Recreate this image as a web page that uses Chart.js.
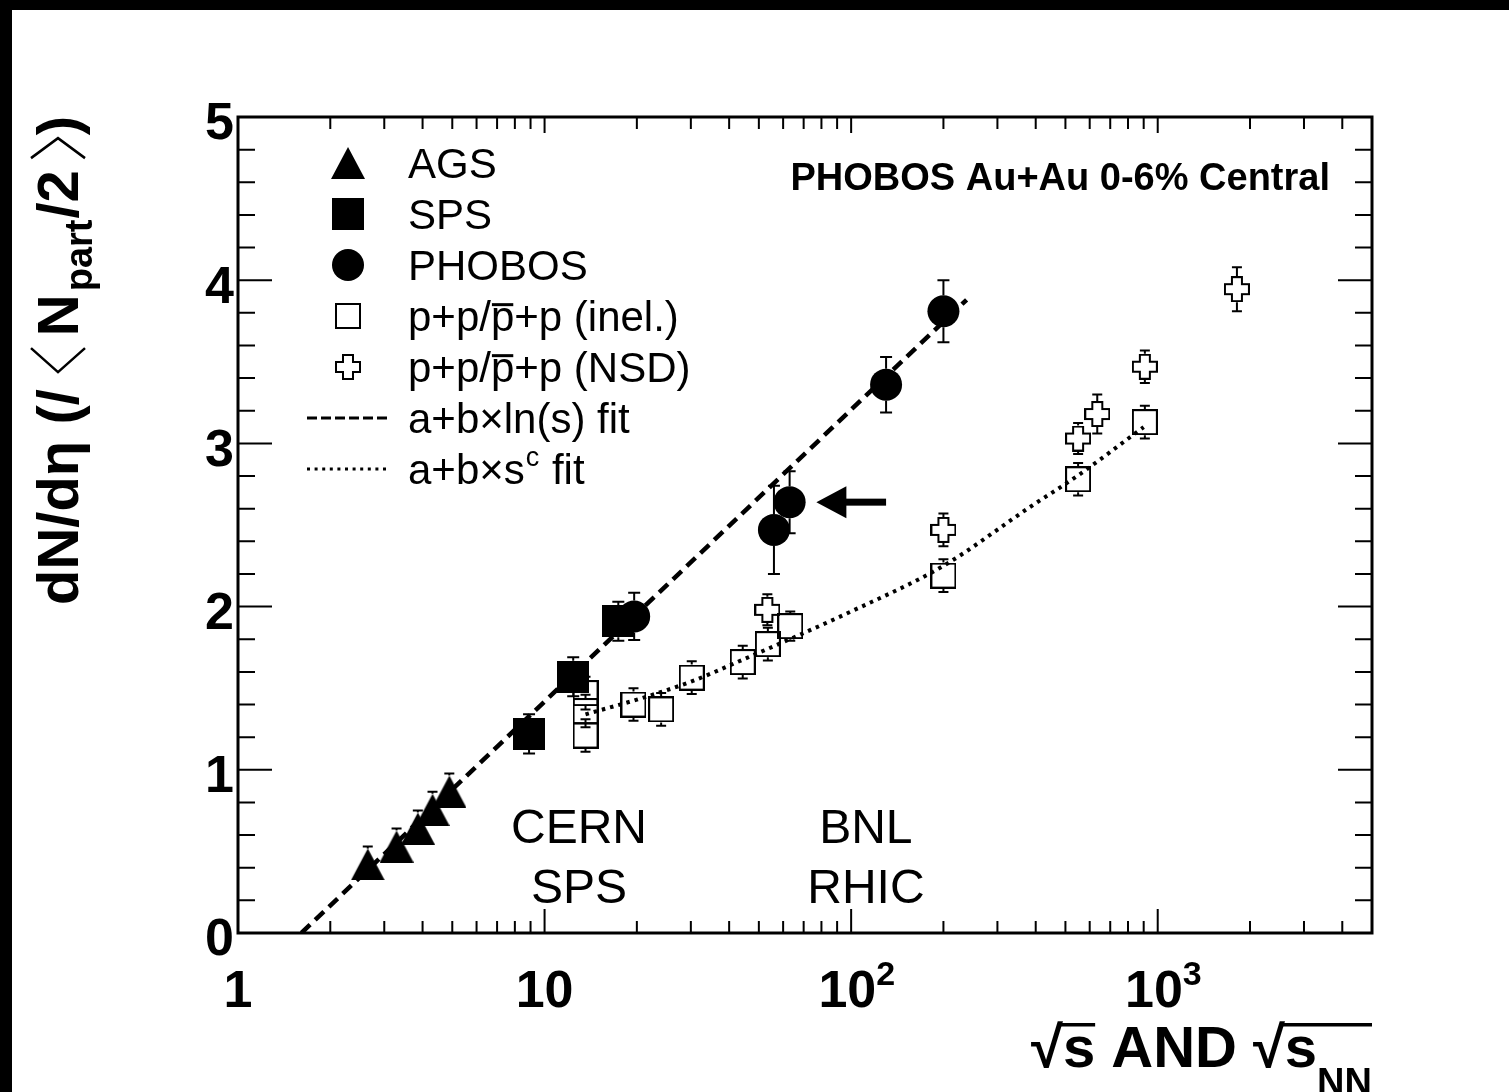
<!DOCTYPE html>
<html>
<head>
<meta charset="utf-8">
<script src="https://cdn.jsdelivr.net/npm/chart.js@4.4.1/dist/chart.umd.min.js"></script>
<style>
html, body { margin: 0; padding: 0; background: #000; }
canvas { display: block; }
</style>
</head>
<body>
<canvas id="chart" width="1509" height="1092"></canvas>
<script>
// ---- data ----
const ags_x = [2.65, 3.29, 3.86, 4.31, 4.89];
const ags_y = [0.42, 0.53, 0.64, 0.755, 0.867];
const ags_err_up = [0.11, 0.11, 0.11, 0.11, 0.11];
const ags_err_down = [0.08, 0.08, 0.08, 0.08, 0.08];

const sps_x = [8.9, 12.4, 17.4];
const sps_y = [1.22, 1.57, 1.91];
const sps_err = [0.12, 0.12, 0.12];

const phobos_x = [19.6, 56, 63, 130, 200];
const phobos_y = [1.94, 2.47, 2.64, 3.36, 3.81];
const phobos_err = [0.145, 0.27, 0.19, 0.17, 0.19];

const inel_x = [13.6, 13.6, 13.6, 19.5, 24, 30.2, 44.3, 53.5, 63.3, 200, 550, 908];
const inel_y = [1.47, 1.36, 1.21, 1.40, 1.37, 1.565, 1.66, 1.77, 1.88, 2.19, 2.78, 3.13];
const inel_err = [0.1, 0.1, 0.1, 0.1, 0.1, 0.1, 0.1, 0.1, 0.09, 0.1, 0.1, 0.1];

const nsd_x = [53.3, 200, 550, 635, 908, 1813];
const nsd_y = [1.98, 2.47, 3.03, 3.18, 3.47, 3.945];
const nsd_err = [0.095, 0.1, 0.095, 0.12, 0.1, 0.135];

// fits, as drawn in the figure
const lnfit_x = [1.61, 238];
const lnfit_y = [0, 3.88];
const powfit_x = [13.6, 20, 30, 45, 63, 100, 200, 383, 546, 900];
const powfit_y = [1.34, 1.43, 1.54, 1.68, 1.80, 1.97, 2.25, 2.61, 2.80, 3.10];

// axis ticks
const x_major = [1, 10, 100, 1000];
const x_label_base = ['1', '10', '10', '10'];
const x_label_exp = ['', '', '2', '3'];
const x_minor = [2, 3, 4, 5, 6, 7, 8, 9, 20, 30, 40, 50, 60, 70, 80, 90,
                 200, 300, 400, 500, 600, 700, 800, 900, 2000, 3000, 4000];
const y_labels = ['0', '1', '2', '3', '4', '5'];

const legend_labels = ['AGS', 'SPS', 'PHOBOS', 'p+p/p+p (inel.)', 'p+p/p+p (NSD)', 'a+b×ln(s) fit', 'a+b×s'];
const region_labels = [['CERN', 'SPS'], ['BNL', 'RHIC']];
const region_x = [12.95, 111.7];
const region_y = [0.553, 0.186];
const arrow_tip = [77, 2.64];
const arrow_tail = [130, 2.64];

const FONT = "'Liberation Sans', Arial, Helvetica, sans-serif";

function zip(xs, ys) {
    return xs.map((x, i) => ({ x: x, y: ys[i] }));
}

// ---- marker images ----
function make_marker(kind) {
    const c = document.createElement('canvas');
    const g = c.getContext('2d');
    if (kind === 'triangle') {
        c.width = 34; c.height = 32;
        g.fillStyle = '#000';
        g.beginPath();
        g.moveTo(17, 0); g.lineTo(34, 32); g.lineTo(0, 32);
        g.closePath(); g.fill();
    } else if (kind === 'square') {
        c.width = 32; c.height = 32;
        g.fillStyle = '#000';
        g.fillRect(0, 0, 32, 32);
    } else if (kind === 'open_square') {
        c.width = 26; c.height = 26;
        g.strokeStyle = '#000'; g.lineWidth = 2;
        g.strokeRect(1, 1, 24, 24);
    } else if (kind === 'open_cross') {
        c.width = 26; c.height = 26;
        const a = 8, b = 18;
        g.beginPath();
        g.moveTo(a, 1); g.lineTo(b, 1); g.lineTo(b, a); g.lineTo(25, a);
        g.lineTo(25, b); g.lineTo(b, b); g.lineTo(b, 25); g.lineTo(a, 25);
        g.lineTo(a, b); g.lineTo(1, b); g.lineTo(1, a); g.lineTo(a, a);
        g.closePath();
        g.fillStyle = '#fff'; g.fill();
        g.strokeStyle = '#000'; g.lineWidth = 2; g.stroke();
    }
    return c;
}

const tri_img = make_marker('triangle');
const sq_img = make_marker('square');
const osq_img = make_marker('open_square');
const cross_img = make_marker('open_cross');

// ---- plugins ----
const background_plugin = {
    id: 'background',
    beforeDraw(chart) {
        const ctx = chart.ctx;
        ctx.save();
        ctx.fillStyle = '#000';
        ctx.fillRect(0, 0, chart.width, chart.height);
        ctx.fillStyle = '#fff';
        ctx.fillRect(12, 10, chart.width - 12, chart.height - 10);
        ctx.restore();
    }
};

const error_bar_plugin = {
    id: 'errorbars',
    beforeDatasetsDraw(chart) {
        const ctx = chart.ctx;
        const ys = chart.scales.y;
        ctx.save();
        ctx.strokeStyle = '#000';
        ctx.lineWidth = 2;
        chart.data.datasets.forEach((ds, i) => {
            if (!ds.err) return;
            const meta = chart.getDatasetMeta(i);
            meta.data.forEach((pt, j) => {
                const val = ds.data[j].y;
                const up = ys.getPixelForValue(val + ds.err.up[j]);
                const down = ys.getPixelForValue(val - ds.err.down[j]);
                const h = ds.err.gap;
                const c = ds.err.cap;
                ctx.beginPath();
                if (pt.y - up > h) {
                    ctx.moveTo(pt.x, pt.y - h); ctx.lineTo(pt.x, up);
                    ctx.moveTo(pt.x - c, up); ctx.lineTo(pt.x + c, up);
                }
                if (down - pt.y > h) {
                    ctx.moveTo(pt.x, pt.y + h); ctx.lineTo(pt.x, down);
                    ctx.moveTo(pt.x - c, down); ctx.lineTo(pt.x + c, down);
                }
                ctx.stroke();
            });
        });
        ctx.restore();
    }
};

const frame_plugin = {
    id: 'frame',
    afterDatasetsDraw(chart) {
        const ctx = chart.ctx;
        const a = chart.chartArea;
        const xs = chart.scales.x, ys = chart.scales.y;
        ctx.save();
        ctx.strokeStyle = '#000';
        ctx.lineWidth = 2;
        ctx.beginPath();
        for (let k = 0; k <= 25; k++) {
            const py = ys.getPixelForValue(k * 0.2);
            const len = (k % 5 === 0) ? 34 : 17;
            ctx.moveTo(a.left, py); ctx.lineTo(a.left + len, py);
            ctx.moveTo(a.right, py); ctx.lineTo(a.right - len, py);
        }
        x_major.forEach(v => {
            const px = xs.getPixelForValue(v);
            ctx.moveTo(px, a.bottom); ctx.lineTo(px, a.bottom - 24);
            ctx.moveTo(px, a.top); ctx.lineTo(px, a.top + 16);
        });
        x_minor.forEach(v => {
            const px = xs.getPixelForValue(v);
            ctx.moveTo(px, a.bottom); ctx.lineTo(px, a.bottom - 12);
            ctx.moveTo(px, a.top); ctx.lineTo(px, a.top + 12);
        });
        ctx.stroke();
        ctx.lineWidth = 3;
        ctx.strokeRect(a.left, a.top, a.right - a.left, a.bottom - a.top);

        // x tick labels with real superscripts
        ctx.fillStyle = '#000';
        ctx.textAlign = 'left';
        ctx.textBaseline = 'alphabetic';
        x_major.forEach((v, i) => {
            const px = xs.getPixelForValue(v);
            ctx.font = `bold 52px ${FONT}`;
            const wb = ctx.measureText(x_label_base[i]).width;
            let we = 0;
            if (x_label_exp[i]) {
                ctx.font = `bold 34px ${FONT}`;
                we = ctx.measureText(x_label_exp[i]).width;
            }
            const left = px - (wb + we) / 2 + we * 0.3;
            ctx.font = `bold 52px ${FONT}`;
            ctx.fillText(x_label_base[i], left, a.bottom + 74);
            if (we) {
                ctx.font = `bold 34px ${FONT}`;
                ctx.fillText(x_label_exp[i], left + wb, a.bottom + 52);
            }
        });
        ctx.restore();
    }
};

function draw_pbar_text(ctx, text, x, y, size) {
    ctx.fillText(text, x, y);
    const pre = ctx.measureText('p+p/').width;
    const pw = ctx.measureText('p').width;
    ctx.fillRect(x + pre + 1, y - size * 0.52 - 6, pw - 2, 3);
}

// thin angle bracket, in rotated text coordinates
function chevron(ctx, x0, w, open_right) {
    ctx.beginPath();
    if (open_right) {
        ctx.moveTo(x0 + w, -47); ctx.lineTo(x0, -20); ctx.lineTo(x0 + w, 7);
    } else {
        ctx.moveTo(x0, -47); ctx.lineTo(x0 + w, -20); ctx.lineTo(x0, 7);
    }
    ctx.stroke();
}

const annotation_plugin = {
    id: 'annotations',
    afterDraw(chart) {
        const ctx = chart.ctx;
        const a = chart.chartArea;
        const xs = chart.scales.x, ys = chart.scales.y;
        ctx.save();
        ctx.fillStyle = '#000';
        ctx.strokeStyle = '#000';

        // region labels
        ctx.font = `48px ${FONT}`;
        ctx.textAlign = 'center';
        ctx.textBaseline = 'alphabetic';
        region_labels.forEach((lines, i) => {
            const px = xs.getPixelForValue(region_x[i]);
            ctx.fillText(lines[0], px, ys.getPixelForValue(region_y[0]));
            ctx.fillText(lines[1], px, ys.getPixelForValue(region_y[1]));
        });

        // arrow
        const tx = xs.getPixelForValue(arrow_tip[0]);
        const ty = ys.getPixelForValue(arrow_tip[1]);
        const ex = xs.getPixelForValue(arrow_tail[0]);
        ctx.beginPath();
        ctx.moveTo(tx, ty);
        ctx.lineTo(tx + 30, ty - 16);
        ctx.lineTo(tx + 30, ty + 16);
        ctx.closePath();
        ctx.fill();
        ctx.fillRect(tx + 28, ty - 3.5, ex - tx - 28, 7);

        // title in the corner
        ctx.font = `bold 38px ${FONT}`;
        ctx.textAlign = 'right';
        ctx.fillText('PHOBOS Au+Au 0-6% Central', a.right - 42, a.top + 73);

        // legend
        const mx = a.left + 110, tx0 = a.left + 170;
        const row0 = a.top + 46, step = 51;
        const size = 42;
        ctx.font = `${size}px ${FONT}`;
        ctx.textAlign = 'left';
        const markers = [tri_img, sq_img, null, osq_img, cross_img];
        for (let i = 0; i < legend_labels.length; i++) {
            const cy = row0 + i * step;
            const base = cy + 15;
            if (i < 5) {
                if (markers[i]) {
                    const img = markers[i];
                    ctx.drawImage(img, mx - img.width / 2, cy - img.height / 2);
                } else {
                    ctx.beginPath();
                    ctx.arc(mx, cy, 16, 0, Math.PI * 2);
                    ctx.fill();
                }
            } else {
                ctx.save();
                ctx.lineWidth = 3;
                ctx.setLineDash(i === 5 ? [10, 4] : [3, 4.6]);
                ctx.beginPath();
                ctx.moveTo(a.left + 69, cy); ctx.lineTo(a.left + 152, cy);
                ctx.stroke();
                ctx.restore();
            }
            if (i === 3 || i === 4) {
                draw_pbar_text(ctx, legend_labels[i], tx0, base, size);
            } else if (i === 6) {
                ctx.fillText(legend_labels[i], tx0, base);
                let w = ctx.measureText(legend_labels[i]).width;
                ctx.font = `27px ${FONT}`;
                ctx.fillText('c', tx0 + w + 1, base - 18);
                const cw = ctx.measureText('c').width;
                ctx.font = `${size}px ${FONT}`;
                ctx.fillText(' fit', tx0 + w + cw + 2, base);
            } else {
                ctx.fillText(legend_labels[i], tx0, base);
            }
        }

        // y axis title
        ctx.save();
        ctx.translate(78, 605);
        ctx.rotate(-Math.PI / 2);
        ctx.textAlign = 'left';
        ctx.lineWidth = 2.5;
        const yfont = `bold 58px ${FONT}`, ysub = `bold 38px ${FONT}`;
        ctx.font = yfont;
        let cx = 0;
        const p1 = 'dN/dη (/';
        ctx.fillText(p1, cx, 0);
        cx += ctx.measureText(p1).width + 17;
        chevron(ctx, cx, 24, true);
        cx += 24 + 12;
        ctx.fillText('N', cx, 0);
        cx += ctx.measureText('N').width + 3;
        ctx.font = ysub;
        ctx.fillText('part', cx, 14);
        cx += ctx.measureText('part').width + 1;
        ctx.font = yfont;
        ctx.fillText('/2', cx, 0);
        cx += ctx.measureText('/2').width + 12;
        chevron(ctx, cx, 20, false);
        cx += 20 + 3;
        ctx.fillText(')', cx, 0);
        ctx.restore();

        // x axis title
        ctx.save();
        ctx.textAlign = 'left';
        const big = `bold 58px ${FONT}`, sub = `bold 38px ${FONT}`;
        ctx.font = big;
        const parts = ['√', 's', ' AND ', '√', 's'];
        const widths = parts.map(p => ctx.measureText(p).width);
        ctx.font = sub;
        const wnn = ctx.measureText('NN').width;
        const total = widths.reduce((s, v) => s + v, 0) + wnn;
        ctx.translate(a.right - total, 1067);
        ctx.font = big;
        let px = 0;
        for (let k = 0; k < parts.length; k++) {
            ctx.fillText(parts[k], px, 0);
            px += widths[k];
        }
        ctx.font = sub;
        ctx.fillText('NN', px, 28);
        ctx.fillRect(widths[0] - 3, -44, widths[1] + 3, 3.5);
        const s2 = widths[0] + widths[1] + widths[2] + widths[3];
        ctx.fillRect(s2 - 3, -44, widths[4] + wnn + 3, 3.5);
        ctx.restore();

        ctx.restore();
    }
};

// ---- chart ----
new Chart(document.getElementById('chart'), {
    type: 'scatter',
    data: {
        datasets: [
            {
                label: 'AGS',
                data: zip(ags_x, ags_y),
                pointStyle: tri_img,
                pointRadius: 16,
                err: { up: ags_err_up, down: ags_err_down, gap: 16, cap: 5 }
            },
            {
                label: 'SPS',
                data: zip(sps_x, sps_y),
                pointStyle: sq_img,
                pointRadius: 16,
                err: { up: sps_err, down: sps_err, gap: 16, cap: 6 }
            },
            {
                label: 'PHOBOS',
                data: zip(phobos_x, phobos_y),
                pointStyle: 'circle',
                pointRadius: 16,
                backgroundColor: '#000',
                borderWidth: 0,
                err: { up: phobos_err, down: phobos_err, gap: 16, cap: 6 }
            },
            {
                label: 'p+p inel.',
                data: zip(inel_x, inel_y),
                pointStyle: osq_img,
                pointRadius: 13,
                err: { up: inel_err, down: inel_err, gap: 13, cap: 5 }
            },
            {
                label: 'p+p NSD',
                data: zip(nsd_x, nsd_y),
                pointStyle: cross_img,
                pointRadius: 13,
                err: { up: nsd_err, down: nsd_err, gap: 13, cap: 5 }
            },
            {
                label: 'ln fit',
                data: zip(lnfit_x, lnfit_y),
                showLine: true,
                pointRadius: 0,
                borderColor: '#000',
                borderWidth: 4.5,
                borderDash: [12, 7]
            },
            {
                label: 'power fit',
                data: zip(powfit_x, powfit_y),
                showLine: true,
                pointRadius: 0,
                borderColor: '#000',
                borderWidth: 4,
                borderDash: [3.5, 5],
                cubicInterpolationMode: 'monotone'
            }
        ]
    },
    options: {
        responsive: false,
        animation: false,
        events: [],
        layout: { padding: { top: 117, right: 137, left: 0, bottom: 0 } },
        plugins: {
            legend: { display: false },
            tooltip: { enabled: false }
        },
        scales: {
            x: {
                type: 'logarithmic',
                min: 1,
                max: 5000,
                grid: { display: false, drawTicks: false },
                border: { display: false },
                afterBuildTicks(scale) {
                    scale.ticks = x_major.map(v => ({ value: v }));
                },
                afterFit(scale) { scale.height = 159; },
                ticks: { display: false }
            },
            y: {
                min: 0,
                max: 5,
                grid: { display: false, drawTicks: false },
                border: { display: false },
                afterFit(scale) { scale.width = 238; },
                ticks: {
                    stepSize: 1,
                    padding: 4,
                    labelOffset: 8,
                    color: '#000',
                    font: { family: FONT, size: 52, weight: 'bold' },
                    callback(value) { return y_labels[value] ?? ''; }
                }
            }
        }
    },
    plugins: [background_plugin, error_bar_plugin, frame_plugin, annotation_plugin]
});
</script>
</body>
</html>
